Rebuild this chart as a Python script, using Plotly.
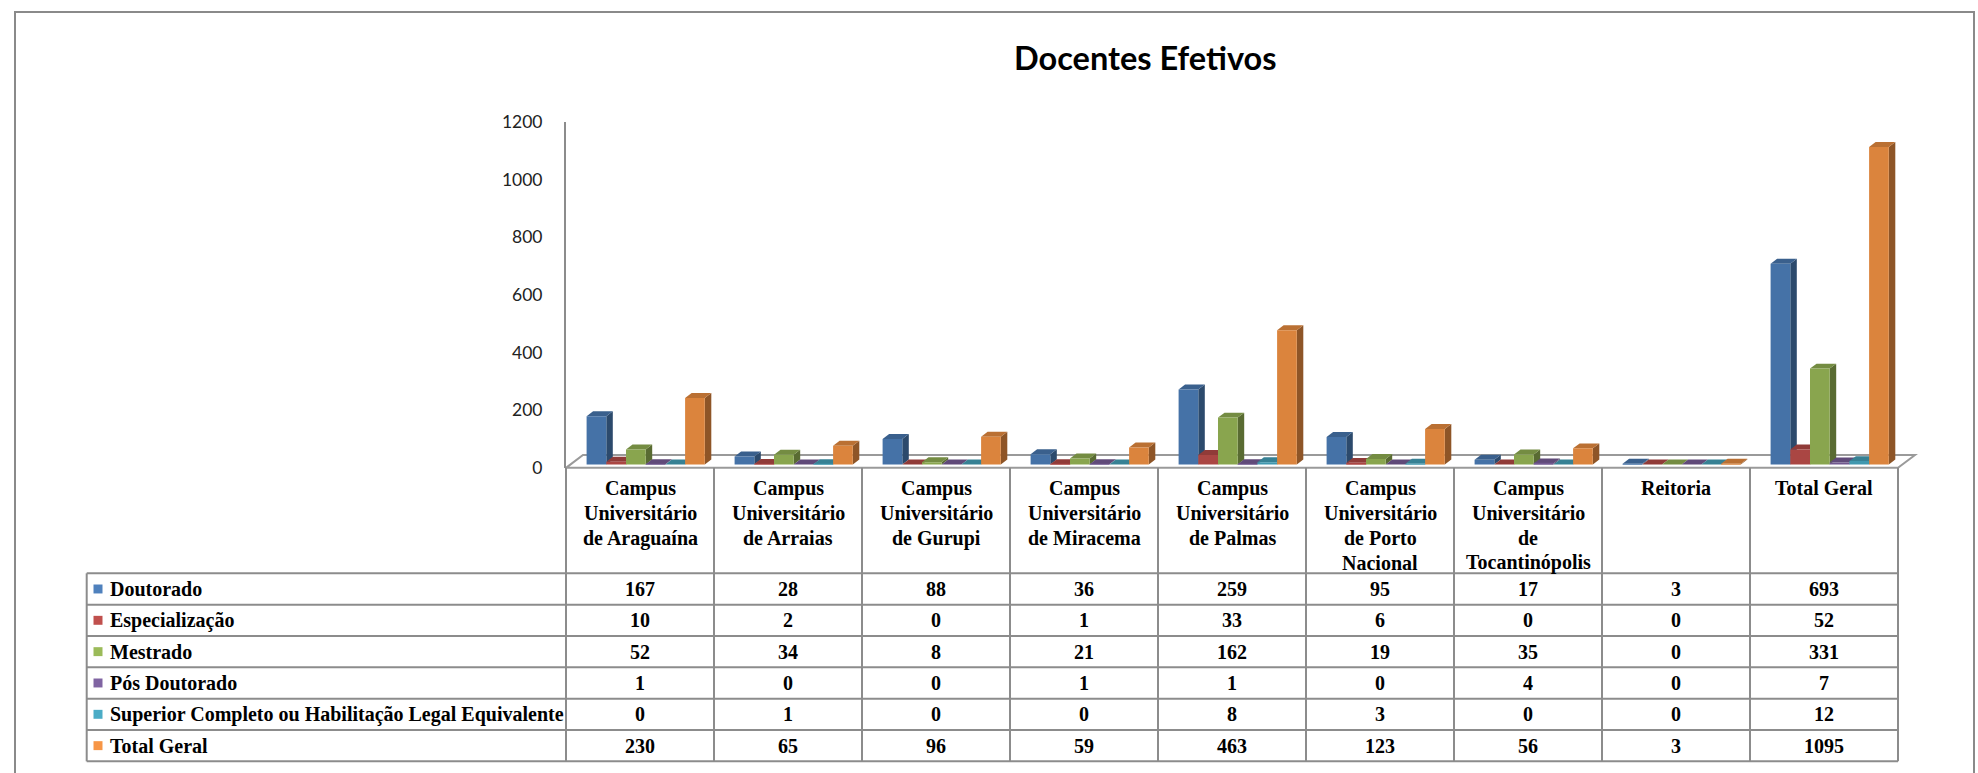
import plotly.graph_objects as go

# ---------------- data ----------------
categories = [
    ["Campus", "Universitário", "de Araguaína"],
    ["Campus", "Universitário", "de Arraias"],
    ["Campus", "Universitário", "de Gurupi"],
    ["Campus", "Universitário", "de Miracema"],
    ["Campus", "Universitário", "de Palmas"],
    ["Campus", "Universitário", "de Porto", "Nacional"],
    ["Campus", "Universitário", "de", "Tocantinópolis"],
    ["Reitoria"],
    ["Total Geral"],
]
series_names = [
    "Doutorado",
    "Especialização",
    "Mestrado",
    "Pós Doutorado",
    "Superior Completo ou Habilitação Legal Equivalente",
    "Total Geral",
]
doutorado = [167, 28, 88, 36, 259, 95, 17, 3, 693]
especializacao = [10, 2, 0, 1, 33, 6, 0, 0, 52]
mestrado = [52, 34, 8, 21, 162, 19, 35, 0, 331]
pos_doutorado = [1, 0, 0, 1, 1, 0, 4, 0, 7]
superior = [0, 1, 0, 0, 8, 3, 0, 0, 12]
total_geral = [230, 65, 96, 59, 463, 123, 56, 3, 1095]
series_values = [doutorado, especializacao, mestrado, pos_doutorado, superior, total_geral]
y_ticks = [0, 200, 400, 600, 800, 1000, 1200]
title_text = "Docentes Efetivos"

front_colors = ["#4572A7", "#AA4643", "#89A54E", "#71588F", "#4198AF", "#DB843D"]
key_colors = ["#4F81BD", "#C0504D", "#9BBB59", "#8064A2", "#4BACC6", "#F79646"]


def shade(hx, f):
    r, g, b = int(hx[1:3], 16), int(hx[3:5], 16), int(hx[5:7], 16)
    return "#%02x%02x%02x" % (int(r * f), int(g * f), int(b * f))


top_colors = [shade(c, 0.85) for c in front_colors]
side_colors = [shade(c, 0.65) for c in front_colors]

# ---------------- geometry (target pixels) ----------------
W, H = 1978, 773
VSCALE, VOFF = 0.978, 9.7   # vertical correction observed in the capture
X0PX = 566.0          # pixel of x = -0.5
CATPX = 148.0         # pixels per category
XMAX = 8.65
Y0PX = 465.7          # pixel of value 0
PPU = 0.2915          # pixels per unit
YMIN, YMAX = -16, 1200


def px_x(px):
    return px / W


def px_y(px):
    page = max((px - VOFF) / VSCALE, 1.0)
    return 1 - page / H


x_dom = [px_x(X0PX), px_x(X0PX + (XMAX + 0.5) * CATPX)]
y_dom = [px_y(Y0PX - YMIN * PPU), px_y(Y0PX - YMAX * PPU)]

n_cat = len(categories)
n_ser = len(series_values)
BW = 19.7 / CATPX
OFF0 = -0.5 + 20.6 / CATPX
DX = 6.5 / CATPX
DY = 5.0 / PPU

fig = go.Figure()

# front faces
for k, vals in enumerate(series_values):
    fig.add_trace(go.Bar(
        x=list(range(n_cat)), y=vals, name=series_names[k],
        offset=OFF0 + k * BW, width=BW,
        marker=dict(color=front_colors[k], line=dict(width=0)),
        showlegend=False, hoverinfo="y+name",
    ))

# dummy trace for tick axis
fig.add_trace(go.Scatter(x=[None], y=[None], xaxis="x2", yaxis="y2",
                         showlegend=False, hoverinfo="skip"))

shapes = []
# floor
fy_front = (Y0PX - 469) / PPU
fy_back = (Y0PX - 456) / PPU
fdx = 17 / CATPX
shapes.append(dict(
    type="path", xref="x", yref="y", layer="below",
    path=f"M -0.5,{fy_front} L 8.5,{fy_front} L {8.5 + fdx},{fy_back} L {-0.5 + fdx},{fy_back} Z",
    fillcolor="white", line=dict(color="#9a9a9a", width=2),
))
# side & top faces
for i in range(n_cat):
    for k in range(n_ser):
        h = series_values[k][i]
        L = i + OFF0 + k * BW
        R = L + BW
        shapes.append(dict(
            type="path", xref="x", yref="y", layer="below",
            path=f"M {R},0 L {R + DX},{DY} L {R + DX},{h + DY} L {R},{h} Z",
            fillcolor=side_colors[k], line=dict(width=0),
        ))
        shapes.append(dict(
            type="path", xref="x", yref="y", layer="below",
            path=f"M {L},{h} L {R},{h} L {R + DX},{h + DY} L {L + DX},{h + DY} Z",
            fillcolor=top_colors[k], line=dict(width=0),
        ))

# table lines
LINE = dict(color="#8c8c8c", width=2)
TAB_LEFT = 86.7
TAB_TOP = 575.0
ROWH = 31.5
HEAD_TOP = 469.0
TAB_RIGHT = X0PX + n_cat * CATPX
for r in range(n_ser + 1):
    y = TAB_TOP + r * ROWH
    shapes.append(dict(type="line", xref="paper", yref="paper",
                       x0=px_x(TAB_LEFT), x1=px_x(TAB_RIGHT), y0=px_y(y), y1=px_y(y), line=LINE))
TAB_BOTTOM = TAB_TOP + n_ser * ROWH
shapes.append(dict(type="line", xref="paper", yref="paper",
                   x0=px_x(TAB_LEFT), x1=px_x(TAB_LEFT), y0=px_y(TAB_TOP), y1=px_y(TAB_BOTTOM), line=LINE))
for j in range(n_cat + 1):
    x = X0PX + j * CATPX
    shapes.append(dict(type="line", xref="paper", yref="paper",
                       x0=px_x(x), x1=px_x(x), y0=px_y(HEAD_TOP), y1=px_y(TAB_BOTTOM), line=LINE))
# legend keys
for k in range(n_ser):
    yc = TAB_TOP + (k + 0.5) * ROWH
    shapes.append(dict(type="rect", xref="paper", yref="paper",
                       x0=px_x(93.5), x1=px_x(102.5), y0=px_y(yc - 4.5), y1=px_y(yc + 4.5),
                       fillcolor=key_colors[k], line=dict(width=0)))
# outer border
shapes.append(dict(type="rect", xref="paper", yref="paper",
                   x0=px_x(15), x1=px_x(1974), y0=px_y(9.5), y1=-0.05,
                   line=dict(color="#8a8a8a", width=2), fillcolor="rgba(0,0,0,0)"))

SERIF = dict(family="Liberation Serif, Times New Roman, serif", size=20, color="black", weight="bold")
annotations = []
# title
annotations.append(dict(text=title_text, xref="paper", yref="paper", x=px_x(1145.5), y=px_y(56),
                        xanchor="center", yanchor="middle", showarrow=False,
                        font=dict(family="Lato, Carlito, Calibri, sans-serif", size=32.5, color="black",
                                  weight="bold")))
# header
for i, lines in enumerate(categories):
    xc = X0PX + (i + 0.5) * CATPX
    for j, ln in enumerate(lines):
        annotations.append(dict(text=ln, xref="paper", yref="paper", x=px_x(xc), y=px_y(489.5 + j * 25),
                                xanchor="center", yanchor="middle", showarrow=False, font=SERIF))
# rows
for k in range(n_ser):
    yc = TAB_TOP + (k + 0.5) * ROWH
    annotations.append(dict(text=series_names[k], xref="paper", yref="paper", x=px_x(107.5), y=px_y(yc),
                            xanchor="left", yanchor="middle", showarrow=False, font=SERIF))
    for i in range(n_cat):
        xc = X0PX + (i + 0.5) * CATPX
        annotations.append(dict(text=str(series_values[k][i]), xref="paper", yref="paper",
                                x=px_x(xc), y=px_y(yc), xanchor="center", yanchor="middle",
                                showarrow=False, font=SERIF))

fig.update_layout(
    width=W, height=H, margin=dict(l=0, r=0, t=0, b=0),
    paper_bgcolor="white", plot_bgcolor="rgba(0,0,0,0)",
    barmode="overlay", showlegend=False,
    xaxis=dict(domain=x_dom, range=[-0.5, XMAX], visible=False, fixedrange=True),
    yaxis=dict(domain=y_dom, range=[YMIN, YMAX], visible=False, fixedrange=True),
    xaxis2=dict(domain=x_dom, range=[0, 1], visible=False, anchor="y2", fixedrange=True),
    yaxis2=dict(domain=[px_y(469), px_y(121)], range=[0, 1200], anchor="x2",
                showline=True, linecolor="#8c8c8c", linewidth=2, showgrid=False, zeroline=False,
                tickvals=y_ticks, ticks="", ticklabelstandoff=18,
                tickfont=dict(family="Lato, Carlito, Calibri, sans-serif", size=17.5, color="#222222"),
                fixedrange=True),
    shapes=shapes, annotations=annotations,
)

fig.write_html("out.html", config={"displayModeBar": False},
               post_script="document.body.style.margin='0';document.body.style.overflow='hidden';")
